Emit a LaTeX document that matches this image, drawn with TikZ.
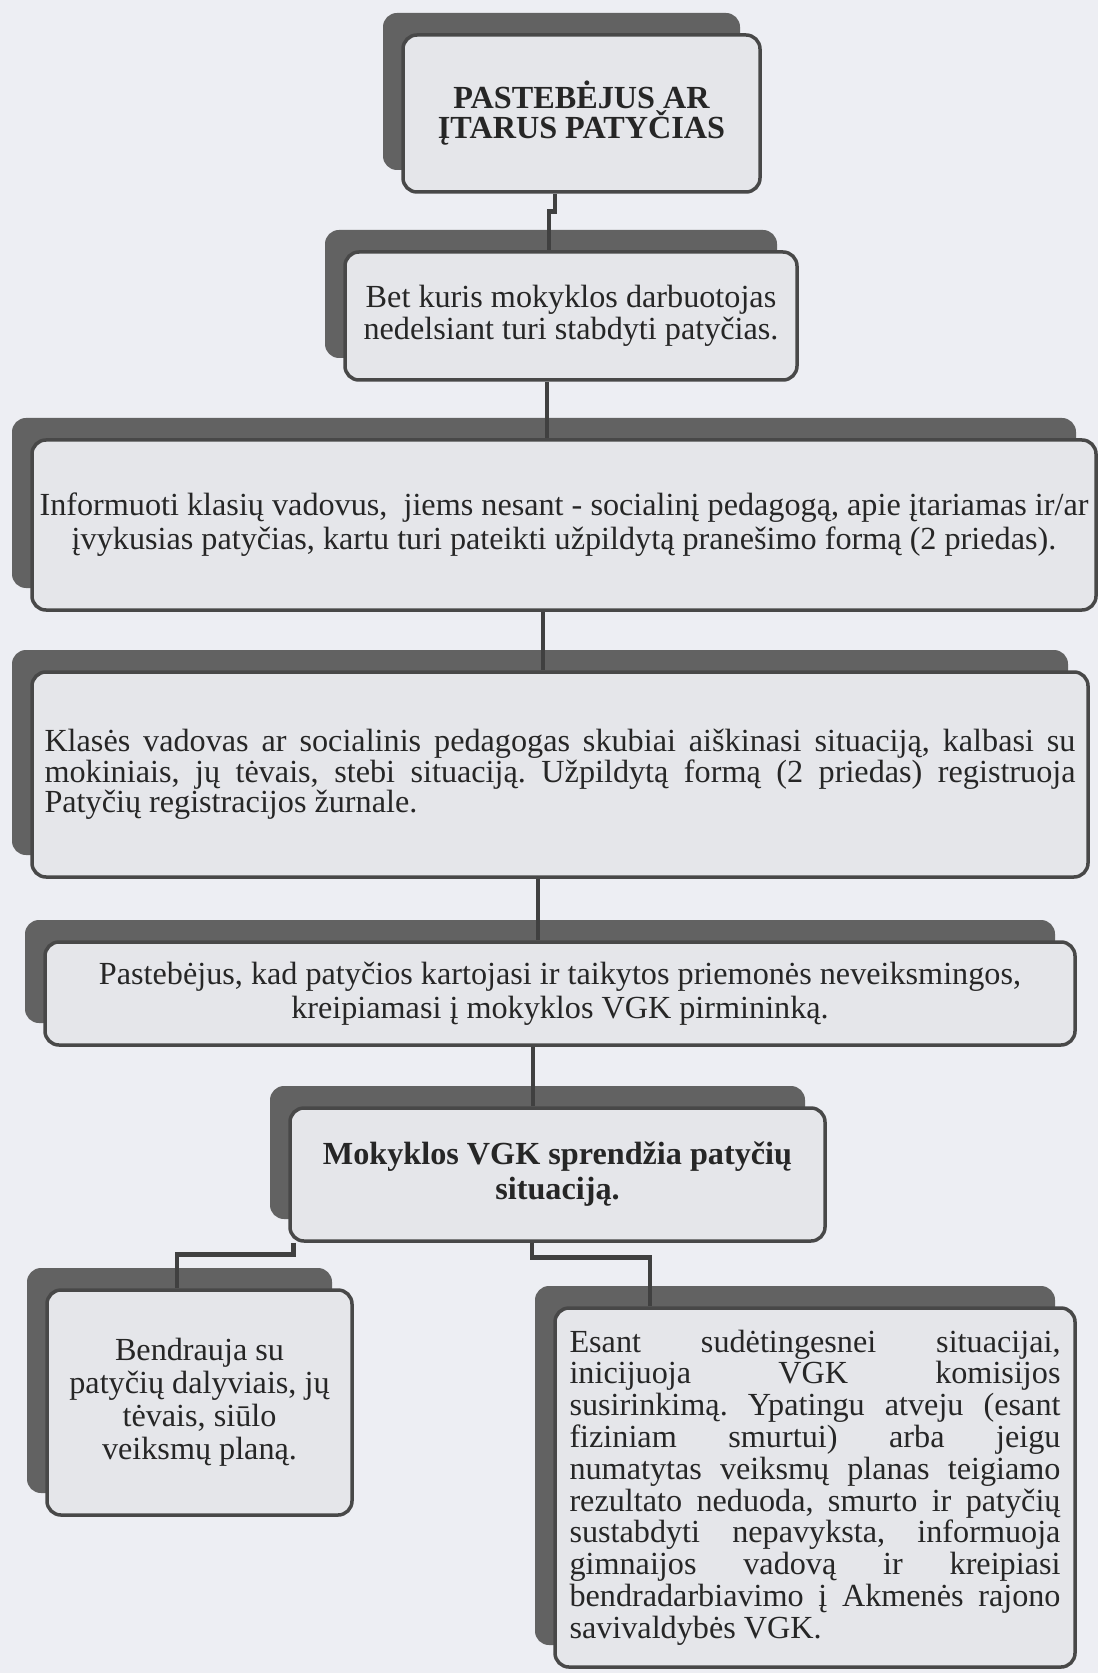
\documentclass[tikz,border=0pt]{standalone}
\usepackage{fontspec}
\setmainfont{Liberation Serif}
\usetikzlibrary{calc}
\usetikzlibrary{shadows}

\definecolor{pagebg}{RGB}{237,238,243}
\definecolor{cardfill}{RGB}{229,230,234}
\definecolor{shade}{RGB}{98,98,98}
\definecolor{rim}{RGB}{72,72,72}
\definecolor{wire}{RGB}{64,64,64}
\definecolor{ink}{RGB}{38,38,38}

\setlength{\parindent}{0pt}
\frenchspacing
\newcommand{\cardfont}[1]{\fontsize{16.1}{#1}\selectfont}
\newcommand{\jline}[1]{{\spaceskip=\fontdimen2\font plus 1fil\relax\makebox[\hsize][s]{#1}}}

\tikzset{
  card/.style={draw=rim,line width=1.75pt,fill=cardfill,rounded corners=7pt,
    inner sep=0pt,text=ink,align=center,
    execute at begin node={\spaceskip=\fontdimen2\font\xspaceskip=\spaceskip\relax},
    general shadow={fill=shade,shadow xshift=-10pt,shadow yshift=11pt}},
  link/.style={draw=wire,line width=2.4pt}
}

\begin{document}
\begin{tikzpicture}[x=0.5pt,y=-0.5pt]

  \path [use as bounding box,fill=pagebg] (0,0) rectangle (1098,1673);

  \node [card,font=\cardfont{15}\bfseries,minimum width=178.5pt,minimum height=78.5pt,text width=160pt]
    (Notice) at (581.5,113.5) {PASTEBĖJUS AR\\ĮTARUS PATYČIAS};

  \node [card,font=\cardfont{16},minimum width=226pt,minimum height=64pt,text width=215pt]
    (Stop) at (571,316) {Bet kuris mokyklos darbuotojas\\nedelsiant turi stabdyti patyčias.};

  \node [card,font=\cardfont{17},minimum width=532pt,minimum height=85pt,text width=530pt]
    (Inform) at (564,525) {Informuoti klasių vadovus,\ \ jiems nesant - socialinį pedagogą, apie įtariamas ir/ar\\
      įvykusias patyčias, kartu turi pateikti užpildytą pranešimo formą (2 priedas).};

  \node [card,align=left,font=\cardfont{15.3},minimum width=528pt,minimum height=102.5pt,text width=515.5pt]
    (Clarify) at (560,774.5) {\jline{Klasės vadovas ar socialinis pedagogas skubiai aiškinasi situaciją, kalbasi su}\\
      \jline{mokiniais, jų tėvais, stebi situaciją. Užpildytą formą (2 priedas) registruoja}\\
      Patyčių registracijos žurnale.};

  \node [card,font=\cardfont{17},minimum width=515pt,minimum height=51.5pt,text width=480pt]
    (Repeat) at (560,993.5) {Pastebėjus, kad patyčios kartojasi ir taikytos priemonės neveiksmingos,\\
      kreipiamasi į mokyklos VGK pirmininką.};

  \node [card,font=\cardfont{17.5}\bfseries,minimum width=267.5pt,minimum height=66.5pt,text width=250pt]
    (Vgk) at (557.5,1174.5) {Mokyklos VGK sprendžia patyčių\\situaciją.};

  \node [card,font=\cardfont{16.5},minimum width=152.5pt,minimum height=112.5pt,text width=145pt]
    (Talk) at (199.5,1402.5) {Bendrauja su\\patyčių dalyviais, jų\\tėvais, siūlo\\veiksmų planą.};

  \node [card,align=left,font=\cardfont{15.9},minimum width=260pt,minimum height=179.5pt,text width=245.5pt]
    (Meeting) at (815,1487.5) {\jline{Esant sudėtingesnei situacijai,}\\
      \jline{inicijuoja VGK komisijos}\\
      \jline{susirinkimą. Ypatingu atveju (esant}\\
      \jline{fiziniam smurtui) arba jeigu}\\
      \jline{numatytas veiksmų planas teigiamo}\\
      \jline{rezultato neduoda, smurto ir patyčių}\\
      \jline{sustabdyti nepavyksta, informuoja}\\
      \jline{gimnaijos vadovą ir kreipiasi}\\
      \jline{bendradarbiavimo į Akmenės rajono}\\
      savivaldybės VGK.};

  \path [link]
    ([xshift=-13.25pt]Notice.south) -- ++(0,18) -| ([xshift=-11pt]Stop.north)
    ([xshift=-12pt]Stop.south) -- ([xshift=-12pt]Stop.south |- Inform.north)
    ([xshift=-10.5pt]Inform.south) -- ([xshift=-10.5pt]Inform.south |- Clarify.north)
    ([xshift=-11pt]Clarify.south) -- ([xshift=-11pt]Clarify.south |- Repeat.north)
    ([xshift=-13.5pt]Repeat.south) -- ([xshift=-13.5pt]Repeat.south |- Vgk.north);

  \path [link]
    ([xshift=2.5pt]Vgk.south west) -- ++(0,12) -| ([xshift=-11.25pt]Talk.north)
    ([xshift=-12.75pt]Vgk.south) -- ++(0,15) -| ([xshift=-82.5pt]Meeting.north);

\end{tikzpicture}
\end{document}
